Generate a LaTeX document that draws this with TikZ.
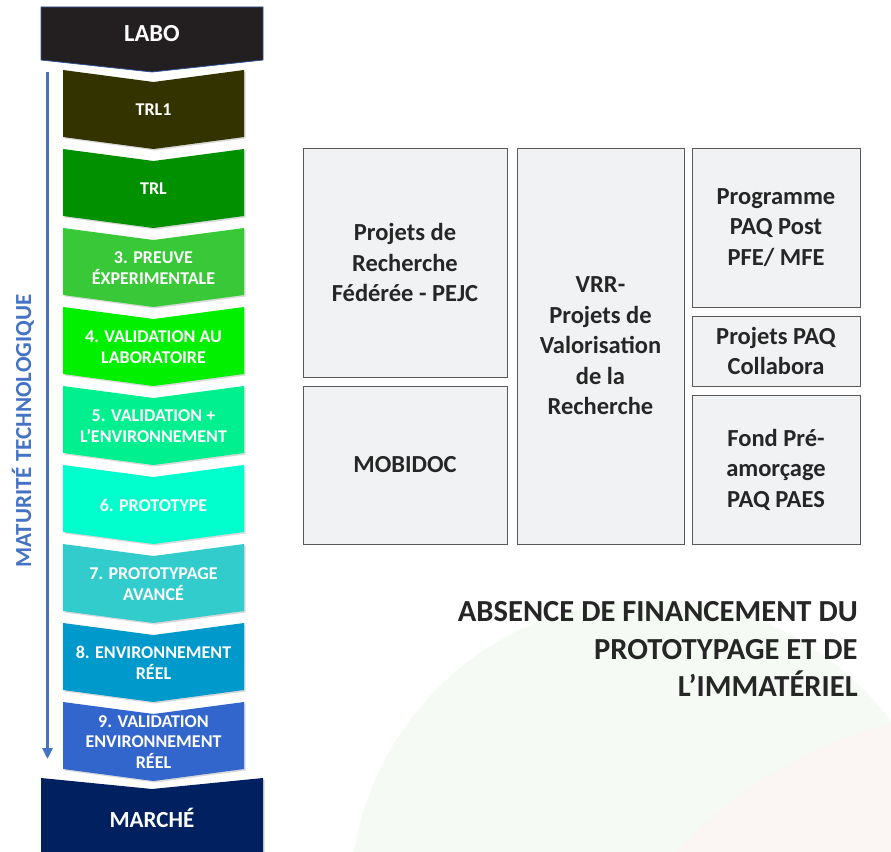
\documentclass[tikz,border=0pt]{standalone}
\usepackage{fontspec}
\setmainfont{Carlito}
\usetikzlibrary{arrows.meta, shadows}

\definecolor{labo}{HTML}{231F20}
\definecolor{laboline}{HTML}{2F5597}
\definecolor{trlA}{HTML}{333300}
\definecolor{trlB}{HTML}{009000}
\definecolor{trlC}{HTML}{38C838}
\definecolor{trlD}{HTML}{00F000}
\definecolor{trlE}{HTML}{00F090}
\definecolor{trlF}{HTML}{00FFCC}
\definecolor{trlG}{HTML}{33CCCC}
\definecolor{trlH}{HTML}{0099CC}
\definecolor{trlI}{HTML}{3366CC}
\definecolor{marche}{HTML}{002060}
\definecolor{axisblue}{HTML}{4472C4}
\definecolor{boxfill}{HTML}{F1F2F4}
\definecolor{boxline}{HTML}{595959}
\definecolor{darktext}{HTML}{262626}
\definecolor{bggreen}{HTML}{F5FAF4}
\definecolor{bgpink}{HTML}{FBF5F3}

\begin{document}
\begin{tikzpicture}[
            x = 1pt, y = -1pt, % pixel grid, y pointing down
            > = {Triangle[width=10pt, length=11pt]}, % arrow head style
            semithick % line style
        ]

        \tikzstyle{level text}=[
            text = white,
            align = center,
            inner sep = 0pt,
            font = \fontsize{18}{20.5}\selectfont\bfseries
        ]
        \tikzstyle{end text}=[
            text = white,
            inner sep = 0pt,
            font = \fontsize{24.5}{28}\selectfont\bfseries
        ]
        \tikzstyle{level shadow}=[
            drop shadow = {shadow xshift=1.5pt, shadow yshift=-1.5pt, opacity=0.3}
        ]
        \tikzstyle{fund box}=[
            draw = boxline,
            fill = boxfill,
            line width = 1pt,
            align = center,
            inner sep = 0pt,
            text = darktext,
            font = \fontsize{24.5}{30.5}\selectfont\bfseries
        ]

        \useasboundingbox (0,0) rectangle (891,851);

        % faint background discs
        \begin{scope}
            \clip (0,0) rectangle (891,851);
            \fill[bggreen] (650,900) circle [radius=300pt];
            \fill[bgpink] (1000,1150) circle [radius=440pt];
        \end{scope}

        % LABO head
        \filldraw[fill=labo, draw=laboline, line width=0.8pt]
            (41,7) -- (263,7) -- (263,60) -- (152,72) -- (41,60) -- cycle;
        \node[end text] (labo) at (152,34) {LABO};

        % TRL chevrons
        \foreach \i/\col/\txt in {
                0/trlA/TRL1,
                1/trlB/TRL,
                2/trlC/{3. PREUVE\\ÉXPERIMENTALE},
                3/trlD/{4. VALIDATION AU\\LABORATOIRE},
                4/trlE/{5. VALIDATION +\\L’ENVIRONNEMENT},
                5/trlF/{6. PROTOTYPE},
                6/trlG/{7. PROTOTYPAGE\\AVANCÉ},
                7/trlH/{8. ENVIRONNEMENT\\RÉEL},
                8/trlI/{9. VALIDATION\\ENVIRONNEMENT\\RÉEL}} {
            \pgfmathsetmacro{\ytop}{70+79*\i}
            \fill[\col, level shadow]
                (63,\ytop) -- (153.5,\ytop+12) -- (244,\ytop) -- (244,\ytop+67)
                -- (153.5,\ytop+79) -- (63,\ytop+67) -- cycle;
            \node[level text] (trl\i) at (153.5,\ytop+40) {\txt};
        }

        % MARCHE foot
        \fill[marche, level shadow]
            (41,778) -- (152,789) -- (263,778) -- (263,855) -- (41,855) -- cycle;
        \node[end text, font=\fontsize{23}{28}\selectfont\bfseries] (marche) at (152,818) {MARCHÉ};

        % maturity axis
        \coordinate (axis top) at (47.5,72);
        \coordinate (axis bottom) at (47.5,759);
        \draw[->, axisblue, line width=3pt] (axis top) -- (axis bottom);
        \node[rotate=90, text=axisblue, inner sep=0pt,
              font=\fontsize{23}{26}\selectfont\bfseries] (maturite) at (23,431)
            {MATURITÉ TECHNOLOGIQUE};

        % funding programmes
        \node[fund box, minimum width=204pt, minimum height=229pt] (pejc) at (405,262.5)
            {Projets de\\Recherche\\Fédérée - PEJC};
        \node[fund box, minimum width=204pt, minimum height=158pt] (mobidoc) at (405,465)
            {MOBIDOC};
        \node[fund box, minimum width=167pt, minimum height=396pt] (vrr) at (600.5,346)
            {VRR-\\Projets de\\Valorisation\\de la\\Recherche};
        \node[fund box, minimum width=168pt, minimum height=159pt] (postpfe) at (776,227.5)
            {Programme\\PAQ Post\\PFE/ MFE};
        \node[fund box, minimum width=168pt, minimum height=70pt] (collabora) at (776,351)
            {Projets PAQ\\Collabora};
        \node[fund box, minimum width=168pt, minimum height=149pt] (paes) at (776,469.5)
            {Fond Pré-\\amorçage\\PAQ PAES};

        % conclusion
        \node[anchor=east, align=right, inner sep=0pt, text=darktext,
              font=\fontsize{30.6}{37.5}\selectfont\bfseries] (absence) at (858,649)
            {ABSENCE DE FINANCEMENT DU\\PROTOTYPAGE ET DE\\L’IMMATÉRIEL};

    \end{tikzpicture}
\end{document}
